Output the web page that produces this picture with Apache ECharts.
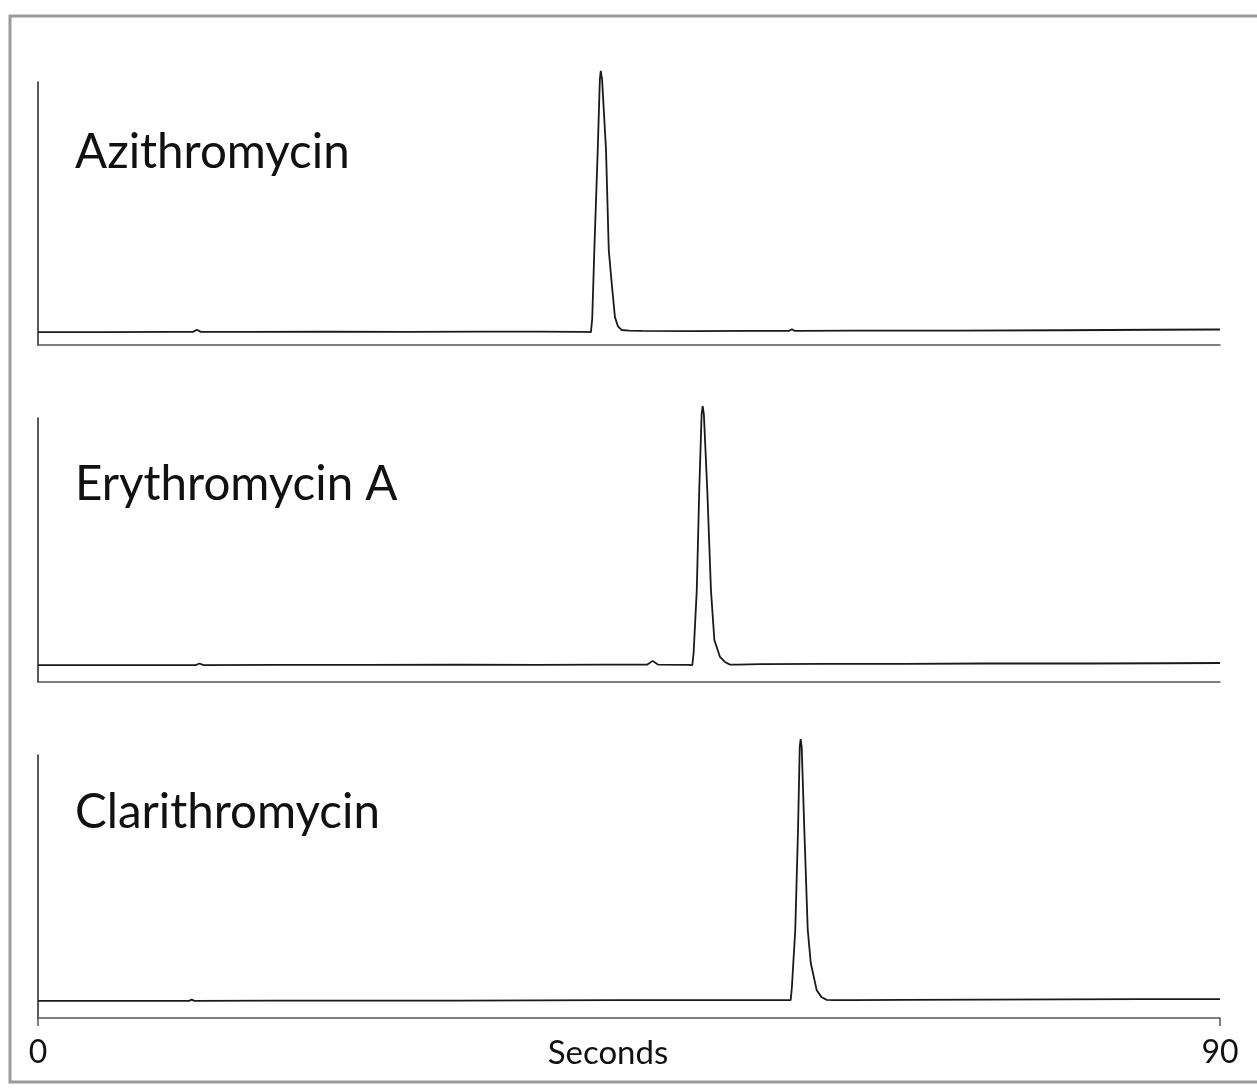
<!DOCTYPE html>
<html>
<head>
<meta charset="utf-8">
<script src="https://cdn.jsdelivr.net/npm/echarts@6/dist/echarts.min.js"></script>
<style>
html,body{margin:0;padding:0;background:#fff;}
#chart{width:1257px;height:1088px;}
</style>
</head>
<body>
<div id="chart"></div>
<script>
// ---- data ----
var compoundNames = ['Azithromycin', 'Erythromycin A', 'Clarithromycin'];
var xTickLabels = ['0', '90'];
var xAxisTitle = 'Seconds';

var azithroTime   = [0, 5, 10, 11.8, 12.1, 12.4, 16, 22, 28, 34, 38, 41.5, 42.10, 42.20, 42.36, 42.62, 42.78, 42.85, 42.95, 43.25, 43.46, 43.68, 43.93, 44.15, 44.44, 45.0, 46, 50, 54, 57.2, 57.4, 57.6, 62, 70, 78, 85, 90];
var azithroSignal = [4.9, 4.9, 5.0, 5.0, 5.8, 5.0, 5.0, 5.1, 5.0, 5.1, 5.1, 5.0, 4.9, 10.0, 36.1, 74.1, 101.0, 104.2, 101.0, 74.1, 36.1, 23.6, 10.6, 7.2, 5.7, 5.5, 5.4, 5.3, 5.4, 5.4, 6.0, 5.4, 5.5, 5.5, 5.6, 5.8, 5.9];

var erythroTime   = [0, 5, 10, 12.0, 12.3, 12.6, 18, 25, 32, 38, 43, 46.4, 46.8, 47.2, 49.5, 49.82, 49.92, 50.16, 50.35, 50.53, 50.61, 50.70, 50.96, 51.24, 51.50, 51.93, 52.3, 52.69, 53.3, 55, 60, 66, 72, 80, 86, 90];
var erythroSignal = [6.4, 6.4, 6.4, 6.4, 7.0, 6.4, 6.5, 6.5, 6.6, 6.5, 6.6, 6.6, 8.0, 6.6, 6.5, 6.4, 11.0, 34.8, 72.7, 101.5, 104.5, 101.5, 72.7, 34.8, 15.9, 9.5, 7.6, 6.6, 6.6, 6.8, 6.9, 6.9, 7.0, 7.0, 7.1, 7.2];

var clarithroTime   = [0, 5, 10, 11.5, 11.7, 11.9, 18, 25, 32, 38, 44, 50, 54, 57.0, 57.31, 57.40, 57.66, 57.87, 58.00, 58.07, 58.15, 58.35, 58.61, 58.84, 59.29, 59.65, 60.05, 60.6, 62, 66, 72, 78, 84, 90];
var clarithroSignal = [6.5, 6.5, 6.5, 6.5, 7.0, 6.5, 6.6, 6.6, 6.6, 6.7, 6.8, 6.8, 6.8, 6.8, 6.8, 11.5, 33.5, 71.5, 103.0, 106.0, 103.0, 71.5, 33.5, 20.9, 10.6, 8.0, 6.9, 6.8, 6.8, 6.9, 7.0, 7.1, 7.2, 7.2];

var panelTimes = [azithroTime, erythroTime, clarithroTime];
var panelSignals = [azithroSignal, erythroSignal, clarithroSignal];

function pairs(t, v) {
  var out = [];
  for (var i = 0; i < t.length; i++) out.push([t[i], v[i]]);
  return out;
}

var FONT = 'Lato';
var chart = echarts.init(document.getElementById('chart'), null, {renderer: 'canvas'});

var gridTops = [82, 418, 755];
var gridHeights = [263, 264, 263];

var grids = [], xAxes = [], yAxes = [], series = [], texts = [];
for (var p = 0; p < 3; p++) {
  grids.push({left: 38, right: 37, top: gridTops[p], height: gridHeights[p], outerBoundsMode: 'none', containLabel: false});
  var last = (p === 2);
  xAxes.push({
    type: 'value', gridIndex: p, min: 0, max: 90, interval: 90,
    axisLine: {show: true, lineStyle: {color: '#555', width: 1.5}},
    axisTick: {show: last, length: 8, lineStyle: {color: '#555', width: 1.5}},
    axisLabel: {show: last, fontFamily: FONT, fontSize: 32, color: '#111', margin: 19,
      formatter: function (v) { return v === 0 ? xTickLabels[0] : (v === 90 ? xTickLabels[1] : ''); }},
    splitLine: {show: false},
    name: last ? xAxisTitle : '', nameLocation: 'middle', nameGap: 19, nameMoveOverlap: false,
    nameTextStyle: {fontFamily: FONT, fontSize: 33, color: '#111', verticalAlign: 'top', padding: [0, 42, 0, 0]}
  });
  yAxes.push({
    type: 'value', gridIndex: p, min: 0, max: 100,
    axisLine: {show: true, lineStyle: {color: '#222', width: 1.5}},
    axisTick: {show: false}, axisLabel: {show: false}, splitLine: {show: false}
  });
  series.push({
    type: 'line', xAxisIndex: p, yAxisIndex: p,
    data: pairs(panelTimes[p], panelSignals[p]),
    showSymbol: false, clip: false, silent: true,
    lineStyle: {color: '#1a1a1a', width: 1.8}
  });
}

var titleCenters = [155, 487, 815];
for (var k = 0; k < 3; k++) {
  texts.push({
    type: 'text', left: 75, top: titleCenters[k] - 26,
    style: {text: compoundNames[k], fontFamily: FONT, fontSize: 47.5, fill: '#111'}
  });
}

chart.setOption({
  animation: false,
  backgroundColor: '#fff',
  grid: grids,
  xAxis: xAxes,
  yAxis: yAxes,
  series: series,
  graphic: [
    {type: 'rect', shape: {x: 10, y: 16, width: 1260, height: 1066},
     style: {fill: 'none', stroke: '#9a9a9a', lineWidth: 3}}
  ].concat(texts)
});
</script>
</body>
</html>
